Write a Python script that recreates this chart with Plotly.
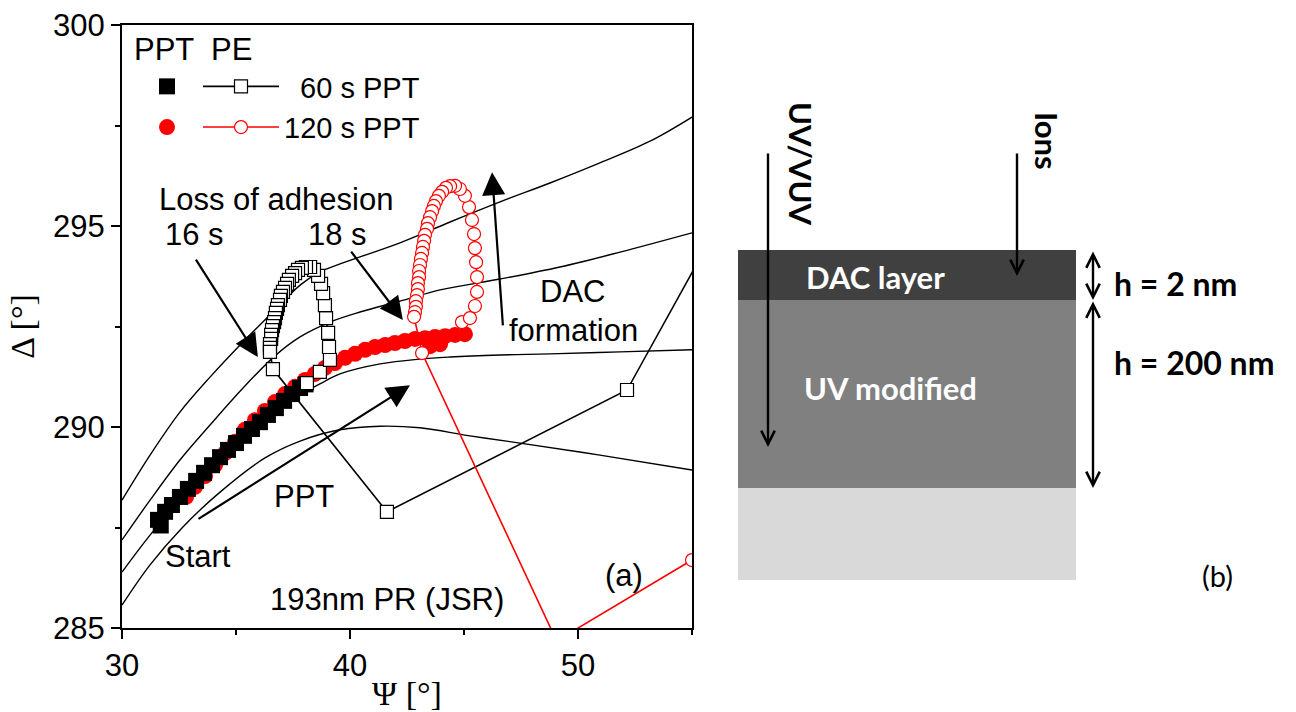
import plotly.graph_objects as go

# ---------------- data ----------------
# model (simulated) Psi-Delta curves
model1_psi = [30.00, 31.23, 32.54, 33.86, 35.18, 36.49, 37.81, 38.68, 39.78, 42.19, 44.39, 46.58, 48.77, 50.96, 53.16, 55.00]
model1_delta = [288.18, 289.30, 290.37, 291.24, 292.04, 292.79, 293.53, 293.86, 294.10, 294.58, 295.10, 295.60, 296.07, 296.57, 297.11, 297.71]
model2_psi = [30.00, 31.23, 32.54, 33.86, 35.39, 36.71, 37.81, 39.12, 40.44, 42.19, 43.95, 46.58, 49.21, 51.84, 55.00]
model2_delta = [287.19, 288.18, 289.18, 290.05, 291.02, 291.77, 292.24, 292.61, 292.86, 293.13, 293.41, 293.68, 293.98, 294.35, 294.83]
model3_psi = [30.00, 31.23, 32.54, 34.08, 35.61, 37.37, 38.68, 39.56, 41.32, 43.07, 44.39, 46.58, 48.77, 51.84, 55.00]
model3_delta = [286.39, 287.31, 288.18, 289.10, 289.93, 290.67, 291.07, 291.32, 291.57, 291.69, 291.74, 291.79, 291.82, 291.87, 291.92]
model4_psi = [30.00, 31.23, 32.63, 34.30, 36.27, 37.81, 39.56, 41.32, 43.07, 45.26, 47.46, 50.96, 55.00]
model4_delta = [285.57, 286.57, 287.49, 288.38, 289.23, 289.65, 289.93, 290.02, 289.98, 289.78, 289.60, 289.30, 288.93]

# PPT 60 s (filled squares)
ppt60_psi = [31.58, 31.70, 31.89, 32.19, 32.54, 32.89, 33.25, 33.60, 33.95, 34.30, 34.65, 35.00, 35.35, 35.70, 36.05, 36.40, 36.75, 37.11, 37.46, 37.81, 38.05]
ppt60_delta = [287.69, 287.55, 287.89, 288.06, 288.26, 288.46, 288.66, 288.86, 289.05, 289.25, 289.43, 289.60, 289.78, 289.95, 290.12, 290.30, 290.47, 290.65, 290.82, 290.97, 291.06]

# PPT 120 s (filled circles)
ppt120_psi = [32.81, 33.20, 33.64, 34.08, 34.52, 34.96, 35.39, 35.83, 36.27, 36.71, 37.15, 37.59, 38.03, 38.46, 38.90, 39.34, 39.78, 40.22, 40.66, 41.10, 41.54, 41.97, 42.41, 42.85, 43.29, 43.51, 43.73, 43.95, 44.17, 44.61, 45.04]
ppt120_delta = [288.26, 288.51, 288.78, 289.05, 289.35, 289.63, 289.93, 290.17, 290.40, 290.62, 290.82, 291.00, 291.17, 291.32, 291.47, 291.59, 291.72, 291.82, 291.92, 291.99, 292.04, 292.09, 292.14, 292.19, 292.21, 292.01, 292.24, 292.06, 292.26, 292.29, 292.31]

# PE after 60 s PPT (open squares + line)
pe60_psi = [38.11, 38.68, 39.12, 39.08, 39.04, 38.95, 38.90, 38.82, 38.73, 38.60, 38.42, 38.25,
            38.07, 37.89, 37.72, 37.59, 37.46, 37.32, 37.24, 37.15, 37.06, 36.97, 36.93, 36.84,
            36.80, 36.75, 36.71, 36.67, 36.62, 36.58, 36.54, 36.54, 36.49, 36.49, 36.49,
            36.62, 41.62, 52.15, 57.40]
pe60_delta = [291.09, 291.37, 291.67, 291.99, 292.34, 292.71, 293.03, 293.33, 293.56, 293.76, 293.91, 293.98,
              293.98, 293.96, 293.91, 293.83, 293.76, 293.66, 293.56, 293.46, 293.36, 293.26, 293.16, 293.03,
              292.94, 292.84, 292.71, 292.61, 292.51, 292.41, 292.29, 292.19, 292.06, 291.97, 291.87,
              291.44, 287.89, 290.92, 296.30]

# PE after 120 s PPT (open circles + line)
pe120_psi = [44.91, 45.26, 45.48, 45.57, 45.57, 45.53, 45.48, 45.44, 45.35, 45.22, 45.04, 44.82, 44.61,
             44.39, 44.21, 44.04, 43.90, 43.77, 43.68, 43.60, 43.51, 43.42, 43.38, 43.29, 43.25, 43.20,
             43.16, 43.11, 43.07, 43.03, 43.03, 42.98, 42.98, 42.94, 42.89, 42.89, 42.85, 42.81,
             43.16, 49.06, 55.00]
pe120_delta = [292.61, 292.71, 293.01, 293.36, 293.73, 294.10, 294.45, 294.80, 295.15, 295.47, 295.75, 295.92, 296.00,
               295.99, 295.95, 295.85, 295.75, 295.62, 295.50, 295.37, 295.22, 295.07, 294.93, 294.78, 294.63, 294.48,
               294.33, 294.18, 294.03, 293.88, 293.73, 293.58, 293.43, 293.28, 293.13, 292.99, 292.86, 292.74,
               291.84, 284.68, 286.69]

x_ticks = [30, 40, 50]
y_ticks = [285, 290, 295, 300]

# ---------------- layout helpers (pixel -> paper, for panel b and legend placement) ----------------
L, R, T, B = 122, 692, 25, 628
W, H = 1296, 712


def PX(px):
    return (px - L) / (R - L)


def PY(py):
    return (B - py) / (B - T)


SANS = "Liberation Sans"
SERIF = "Liberation Serif"
CAL = "Lato"
FS = 31

fig = go.Figure()

for psi, dl in [(model1_psi, model1_delta), (model2_psi, model2_delta),
                (model3_psi, model3_delta), (model4_psi, model4_delta)]:
    fig.add_trace(go.Scatter(x=psi, y=dl, mode="lines",
                             line=dict(color="black", width=1.4, shape="spline", smoothing=1.0),
                             showlegend=False, hoverinfo="skip"))

fig.add_trace(go.Scatter(x=ppt120_psi, y=ppt120_delta, mode="markers", name=" ",
                         marker=dict(symbol="circle", size=16, color="#ff0000", line=dict(width=0)),
                         legend="legend", legendgroup="a2", legendrank=2))
fig.add_trace(go.Scatter(x=ppt60_psi, y=ppt60_delta, mode="markers", name=" ",
                         marker=dict(symbol="square", size=16, color="black", line=dict(width=0)),
                         legend="legend", legendgroup="a1", legendrank=1))
fig.add_trace(go.Scatter(x=pe60_psi, y=pe60_delta, mode="lines+markers", name="  60 s PPT",
                         line=dict(color="black", width=1.6),
                         marker=dict(symbol="square", size=13, color="white", line=dict(color="black", width=1.2)),
                         legend="legend2", legendgroup="b1", legendrank=1))
fig.add_trace(go.Scatter(x=pe120_psi, y=pe120_delta, mode="lines+markers", name="120 s PPT",
                         line=dict(color="#ff0000", width=1.6),
                         marker=dict(symbol="circle", size=13, color="white", line=dict(color="#ff0000", width=1.2)),
                         legend="legend2", legendgroup="b2", legendrank=2))

ann = []


def txt(x, y, s, ref="x", font=None, **kw):
    d = dict(x=x, y=y, text=s, showarrow=False, xanchor="center", yanchor="middle",
             font=font or dict(family=SANS, size=FS, color="black"))
    if ref == "x":
        d.update(xref="x", yref="y")
    else:
        d.update(xref="paper", yref="paper")
    d.update(kw)
    ann.append(d)


# panel (a) labels
txt(PX(132), PY(49), "PPT  PE", ref="p", xanchor="left")
txt(36.75, 295.67, "Loss of adhesion")
txt(33.20, 294.80, "16 s")
txt(39.47, 294.80, "18 s")
txt(49.78, 293.38, "DAC")
txt(49.82, 292.40, "formation")
txt(37.98, 288.28, "PPT")
txt(33.33, 286.79, "Start")
txt(41.62, 285.70, "193nm PR (JSR)")
txt(52.02, 286.30, "(a)")


def arrow(x0, y0, x1, y1):
    ann.append(dict(x=x1, y=y1, ax=x0, ay=y0, xref="x", yref="y", axref="x", ayref="y",
                    showarrow=True, arrowhead=2, arrowsize=2.1, arrowwidth=2.2, arrowcolor="black", text=""))


arrow(33.20, 294.20, 35.96, 291.74)
arrow(40.00, 294.40, 42.32, 292.66)
arrow(46.71, 292.49, 46.23, 296.34)
arrow(33.29, 287.69, 42.63, 291.04)

# ---------------- panel (b): layer diagram ----------------
shapes = []
layers = [(250, 300, "#404040"), (300, 488, "#808080"), (488, 580, "#d9d9d9")]
for y0, y1, col in layers:
    shapes.append(dict(type="rect", xref="paper", yref="paper", x0=PX(738), x1=PX(1076),
                       y0=PY(y1), y1=PY(y0), fillcolor=col, line=dict(width=0), layer="below"))

txt(PX(876), PY(277), "<b>DAC layer</b>", ref="p", font=dict(family=CAL, size=31, color="white"))
txt(PX(890), PY(388), "<b>UV modified</b>", ref="p", font=dict(family=CAL, size=31, color="white"))
txt(PX(1112), PY(283), "<b>h = 2 nm</b>", ref="p", xanchor="left", font=dict(family=CAL, size=32, color="black"))
txt(PX(1112), PY(362), "<b>h = 200 nm</b>", ref="p", xanchor="left", font=dict(family=CAL, size=32, color="black"))
txt(PX(1217), PY(575), "(b)", ref="p", font=dict(family=CAL, size=29, color="black"))
txt(PX(801), PY(164), "<b>UV/VUV</b>", ref="p", textangle=90, font=dict(family=CAL, size=31, color="black"))
txt(PX(1047), PY(141), "<b>Ions</b>", ref="p", textangle=90, font=dict(family=CAL, size=31, color="black"))


def parrow(px, py_tail, py_head, both=False):
    d = dict(x=PX(px), y=PY(py_head), xref="paper", yref="paper", ax=0, ay=py_tail - py_head,
             showarrow=True, arrowhead=5, arrowsize=1.1, arrowwidth=2.4, arrowcolor="black", text="")
    if both:
        d.update(arrowside="end+start", startarrowhead=5, startarrowsize=1.1)
    ann.append(d)


parrow(768, 152, 447)
parrow(1017, 152, 276)
parrow(1093, 250, 300, both=True)
parrow(1093, 300, 488, both=True)

axis_common = dict(showline=True, linewidth=2, linecolor="black", mirror=True, showgrid=False,
                   zeroline=False, ticks="outside", ticklen=9, tickwidth=2, tickcolor="black",
                   automargin=False,
                   tickfont=dict(family=SANS, size=FS, color="black"))

LEG_FS = 29
fig.update_layout(
    width=W, height=H, margin=dict(l=L, r=W - R, t=T, b=H - B, autoexpand=False),
    plot_bgcolor="white", paper_bgcolor="white",
    xaxis=dict(range=[30, 55], tickvals=x_ticks, **axis_common,
               minor=dict(dtick=5, tick0=30, ticks="outside", ticklen=5, tickwidth=2, tickcolor="black", showgrid=False),
               title=dict(text="Ψ [°]", font=dict(family=SERIF, size=34, color="black"), standoff=2)),
    yaxis=dict(range=[285, 300], tickvals=y_ticks, **axis_common,
               minor=dict(dtick=2.5, tick0=285, ticks="outside", ticklen=5, tickwidth=2, tickcolor="black", showgrid=False),
               title=dict(text="Δ [°]", font=dict(family=SERIF, size=34, color="black"), standoff=8)),
    legend=dict(x=PX(147), y=PY(61), xanchor="left", yanchor="top", bgcolor="rgba(0,0,0,0)",
                font=dict(family=SANS, size=LEG_FS, color="black"), traceorder="grouped", tracegroupgap=0,
                itemwidth=30),
    legend2=dict(x=PX(198), y=PY(61), xanchor="left", yanchor="top", bgcolor="rgba(0,0,0,0)",
                 font=dict(family=SANS, size=LEG_FS, color="black"), traceorder="grouped", tracegroupgap=0,
                 itemwidth=76),
    annotations=ann, shapes=shapes, showlegend=True,
)

fig.write_html("out.html")
